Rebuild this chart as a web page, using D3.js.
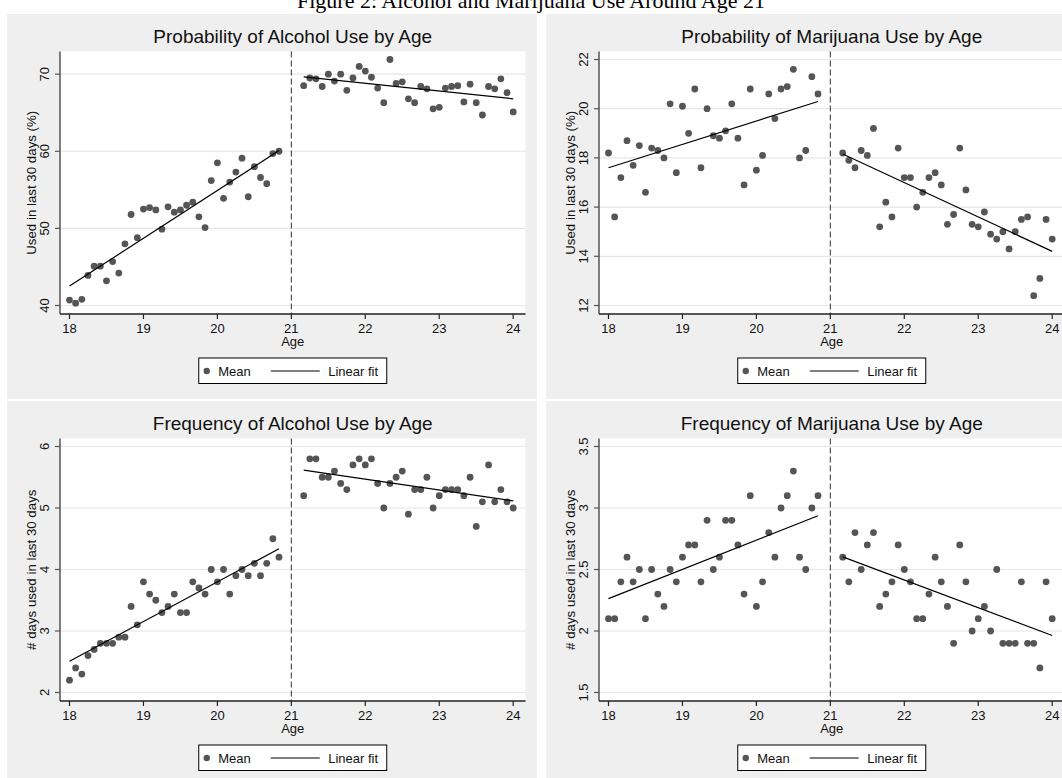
<!DOCTYPE html>
<html>
<head>
<meta charset="utf-8">
<script src="https://cdn.jsdelivr.net/npm/d3@7"></script>
<style>
  body { margin: 0; background: #ffffff; }
  svg { display: block; font-family: "Liberation Sans", Arial, sans-serif; }
</style>
</head>
<body>
<svg id="chart" width="1062" height="778"></svg>
<script>
// ages (monthly bins) on each side of 21
const ageBelow = [18.000, 18.083, 18.167, 18.250, 18.333, 18.417, 18.500, 18.583, 18.667, 18.750, 18.833, 18.917,
  19.000, 19.083, 19.167, 19.250, 19.333, 19.417, 19.500, 19.583, 19.667, 19.750, 19.833, 19.917,
  20.000, 20.083, 20.167, 20.250, 20.333, 20.417, 20.500, 20.583, 20.667, 20.750, 20.833];
const ageAbove = [21.167, 21.250, 21.333, 21.417, 21.500, 21.583, 21.667, 21.750, 21.833, 21.917,
  22.000, 22.083, 22.167, 22.250, 22.333, 22.417, 22.500, 22.583, 22.667, 22.750, 22.833, 22.917,
  23.000, 23.083, 23.167, 23.250, 23.333, 23.417, 23.500, 23.583, 23.667, 23.750, 23.833, 23.917, 24.000];
const xTicks = [18, 19, 20, 21, 22, 23, 24];

// probabilité alcool
const alcProbBelow = [40.7, 40.3, 40.8, 43.9, 45.1, 45.1, 43.2, 45.7, 44.2, 48.0, 51.8, 48.8,
  52.5, 52.7, 52.4, 49.9, 52.8, 52.1, 52.4, 53.0, 53.4, 51.5, 50.1, 56.2,
  58.5, 53.9, 56.0, 57.3, 59.1, 54.1, 58.0, 56.6, 55.8, 59.7, 60.0];
const alcProbAbove = [68.5, 69.5, 69.4, 68.4, 70.0, 69.1, 70.0, 67.9, 69.5, 71.0,
  70.4, 69.6, 68.2, 66.3, 71.9, 68.8, 69.0, 66.8, 66.3, 68.4, 68.1, 65.5,
  65.7, 68.2, 68.4, 68.5, 66.4, 68.7, 66.3, 64.7, 68.4, 68.1, 69.4, 67.6, 65.1];
const alcProbTicks = [40, 50, 60, 70];

// probabilité marijuana
const mjProbBelow = [18.2, 15.6, 17.2, 18.7, 17.7, 18.5, 16.6, 18.4, 18.3, 18.0, 20.2, 17.4,
  20.1, 19.0, 20.8, 17.6, 20.0, 18.9, 18.8, 19.1, 20.2, 18.8, 16.9, 20.8,
  17.5, 18.1, 20.6, 19.6, 20.8, 20.9, 21.6, 18.0, 18.3, 21.3, 20.6];
const mjProbAbove = [18.2, 17.9, 17.6, 18.3, 18.1, 19.2, 15.2, 16.2, 15.6, 18.4,
  17.2, 17.2, 16.0, 16.6, 17.2, 17.4, 16.9, 15.3, 15.7, 18.4, 16.7, 15.3,
  15.2, 15.8, 14.9, 14.7, 15.0, 14.3, 15.0, 15.5, 15.6, 12.4, 13.1, 15.5, 14.7];
const mjProbTicks = [12, 14, 16, 18, 20, 22];

// fréquence alcool
const alcFreqBelow = [2.2, 2.4, 2.3, 2.6, 2.7, 2.8, 2.8, 2.8, 2.9, 2.9, 3.4, 3.1,
  3.8, 3.6, 3.5, 3.3, 3.4, 3.6, 3.3, 3.3, 3.8, 3.7, 3.6, 4.0,
  3.8, 4.0, 3.6, 3.9, 4.0, 3.9, 4.1, 3.9, 4.1, 4.5, 4.2];
const alcFreqAbove = [5.2, 5.8, 5.8, 5.5, 5.5, 5.6, 5.4, 5.3, 5.7, 5.8,
  5.7, 5.8, 5.4, 5.0, 5.4, 5.5, 5.6, 4.9, 5.3, 5.3, 5.5, 5.0,
  5.2, 5.3, 5.3, 5.3, 5.2, 5.5, 4.7, 5.1, 5.7, 5.1, 5.3, 5.1, 5.0];
const alcFreqTicks = [2, 3, 4, 5, 6];

// fréquence marijuana
const mjFreqBelow = [2.1, 2.1, 2.4, 2.6, 2.4, 2.5, 2.1, 2.5, 2.3, 2.2, 2.5, 2.4,
  2.6, 2.7, 2.7, 2.4, 2.9, 2.5, 2.6, 2.9, 2.9, 2.7, 2.3, 3.1,
  2.2, 2.4, 2.8, 2.6, 3.0, 3.1, 3.3, 2.6, 2.5, 3.0, 3.1];
const mjFreqAbove = [2.6, 2.4, 2.8, 2.5, 2.7, 2.8, 2.2, 2.3, 2.4, 2.7,
  2.5, 2.4, 2.1, 2.1, 2.3, 2.6, 2.4, 2.2, 1.9, 2.7, 2.4, 2.0,
  2.1, 2.2, 2.0, 2.5, 1.9, 1.9, 1.9, 2.4, 1.9, 1.9, 1.7, 2.4, 2.1];
const mjFreqTicks = [1.5, 2, 2.5, 3, 3.5];

const panelTitles = ["Probability of Alcohol Use by Age", "Probability of Marijuana Use by Age",
  "Frequency of Alcohol Use by Age", "Frequency of Marijuana Use by Age"];
const yTitles = ["Used in last 30 days (%)", "Used in last 30 days (%)",
  "# days used in last 30 days", "# days used in last 30 days"];

const panels = [
  { title: panelTitles[0], yTitle: yTitles[0], below: alcProbBelow, above: alcProbAbove, ticks: alcProbTicks, x: 7, y: 14 },
  { title: panelTitles[1], yTitle: yTitles[1], below: mjProbBelow, above: mjProbAbove, ticks: mjProbTicks, x: 546, y: 14 },
  { title: panelTitles[2], yTitle: yTitles[2], below: alcFreqBelow, above: alcFreqAbove, ticks: alcFreqTicks, x: 7, y: 401 },
  { title: panelTitles[3], yTitle: yTitles[3], below: mjFreqBelow, above: mjFreqAbove, ticks: mjFreqTicks, x: 546, y: 401 }
];

//---------------------------------------------------------------------------------------

const svg = d3.select("#chart");

// titre général (coupé en haut de l'image)
svg.append("text")
  .attr("x", 531)
  .attr("y", 8)
  .attr("text-anchor", "middle")
  .attr("font-family", "'Liberation Serif', 'Times New Roman', serif")
  .attr("font-size", "22px")
  .attr("fill", "#000")
  .text("Figure 2: Alcohol and Marijuana Use Around Age 21");

const panelW = 530;
const panelH = 385;
const plot = { left: 53, right: 518.5, top: 37.5, bottom: 300 };

// droite des moindres carrés
function linearFit(xs, ys) {
  const mx = d3.mean(xs), my = d3.mean(ys);
  const b = d3.sum(xs, (x, i) => (x - mx) * (ys[i] - my)) / d3.sum(xs, x => (x - mx) * (x - mx));
  const a = my - b * mx;
  return [[xs[0], a + b * xs[0]], [xs[xs.length - 1], a + b * xs[xs.length - 1]]];
}

panels.forEach((p, idx) => {
  const g = svg.append("g").attr("transform", `translate(${p.x}, ${p.y})`);

  // fond du panneau
  g.append("rect")
    .attr("width", panelW).attr("height", panelH)
    .attr("fill", "#efefef");

  // zone du graphique
  g.append("rect")
    .attr("x", plot.left).attr("y", plot.top)
    .attr("width", plot.right - plot.left).attr("height", plot.bottom - plot.top)
    .attr("fill", "#ffffff");

  const x = d3.scaleLinear().domain([18, 24]).range([62.5, 506.2]);
  const allY = p.below.concat(p.above, p.ticks);
  const y = d3.scaleLinear().domain(d3.extent(allY)).range([291.5, 45.5]);

  // grille
  g.append("g")
    .selectAll("line")
    .data(p.ticks)
    .join("line")
    .attr("x1", plot.left).attr("x2", plot.right)
    .attr("y1", d => y(d)).attr("y2", d => y(d))
    .attr("stroke", "#e6e6e6")
    .attr("stroke-width", 1.2);

  // ligne verticale à 21 ans
  g.append("line")
    .attr("x1", x(21)).attr("x2", x(21))
    .attr("y1", plot.top).attr("y2", plot.bottom)
    .attr("stroke", "#444")
    .attr("stroke-width", 1.1)
    .attr("stroke-dasharray", "6,3");

  // points (moyennes)
  const pts = ageBelow.map((a, i) => [a, p.below[i]]).concat(ageAbove.map((a, i) => [a, p.above[i]]));
  g.append("g")
    .selectAll("circle")
    .data(pts)
    .join("circle")
    .attr("cx", d => x(d[0]))
    .attr("cy", d => y(d[1]))
    .attr("r", 3.4)
    .attr("fill", "#555555");

  // droites d'ajustement
  const line = d3.line().x(d => x(d[0])).y(d => y(d[1]));
  [linearFit(ageBelow, p.below), linearFit(ageAbove, p.above)].forEach(f => {
    g.append("path")
      .attr("d", line(f))
      .attr("fill", "none")
      .attr("stroke", "#000")
      .attr("stroke-width", 1.2);
  });

  // axe des y
  g.append("line")
    .attr("x1", plot.left).attr("x2", plot.left)
    .attr("y1", plot.top).attr("y2", plot.bottom)
    .attr("stroke", "#555").attr("stroke-width", 1.5);
  const yTick = g.append("g").selectAll("g").data(p.ticks).join("g");
  yTick.append("line")
    .attr("x1", plot.left - 5).attr("x2", plot.left)
    .attr("y1", d => y(d)).attr("y2", d => y(d))
    .attr("stroke", "#555").attr("stroke-width", 1.2);
  yTick.append("text")
    .attr("transform", d => `translate(${plot.left - 11}, ${y(d)}) rotate(-90)`)
    .attr("text-anchor", "middle")
    .attr("font-size", "13px")
    .attr("fill", "#111")
    .text(d => d);

  g.append("text")
    .attr("transform", `translate(28.5, ${(plot.top + plot.bottom) / 2}) rotate(-90)`)
    .attr("text-anchor", "middle")
    .attr("font-size", "13.3px")
    .attr("fill", "#111")
    .text(p.yTitle);

  // axe des x
  g.append("line")
    .attr("x1", plot.left).attr("x2", plot.right)
    .attr("y1", plot.bottom).attr("y2", plot.bottom)
    .attr("stroke", "#222").attr("stroke-width", 1.5);
  const xTick = g.append("g").selectAll("g").data(xTicks).join("g");
  xTick.append("line")
    .attr("x1", d => x(d)).attr("x2", d => x(d))
    .attr("y1", plot.bottom).attr("y2", plot.bottom + 5)
    .attr("stroke", "#222").attr("stroke-width", 1.2);
  xTick.append("text")
    .attr("x", d => x(d)).attr("y", 319)
    .attr("text-anchor", "middle")
    .attr("font-size", "13px")
    .attr("fill", "#111")
    .text(d => d);

  const cx = (plot.left + plot.right) / 2;
  g.append("text")
    .attr("x", cx).attr("y", 332.3)
    .attr("text-anchor", "middle")
    .attr("font-size", "13px")
    .attr("fill", "#111")
    .text("Age");

  // titre du panneau
  g.append("text")
    .attr("x", cx).attr("y", 29.3)
    .attr("text-anchor", "middle")
    .attr("font-size", "19px")
    .attr("fill", "#111")
    .text(p.title);

  // légende
  const leg = g.append("g").attr("transform", `translate(${cx - 94}, 344)`);
  leg.append("rect")
    .attr("width", 188).attr("height", 25.5)
    .attr("fill", "#ffffff")
    .attr("stroke", "#000").attr("stroke-width", 1);
  leg.append("circle")
    .attr("cx", 8).attr("cy", 13).attr("r", 3.2).attr("fill", "#555555");
  leg.append("text")
    .attr("x", 19.5).attr("y", 17.5)
    .attr("font-size", "13px").attr("fill", "#111")
    .text("Mean");
  leg.append("line")
    .attr("x1", 72).attr("x2", 121).attr("y1", 13).attr("y2", 13)
    .attr("stroke", "#000").attr("stroke-width", 1.2);
  leg.append("text")
    .attr("x", 129.5).attr("y", 17.5)
    .attr("font-size", "13px").attr("fill", "#111")
    .text("Linear fit");
});
</script>
</body>
</html>
